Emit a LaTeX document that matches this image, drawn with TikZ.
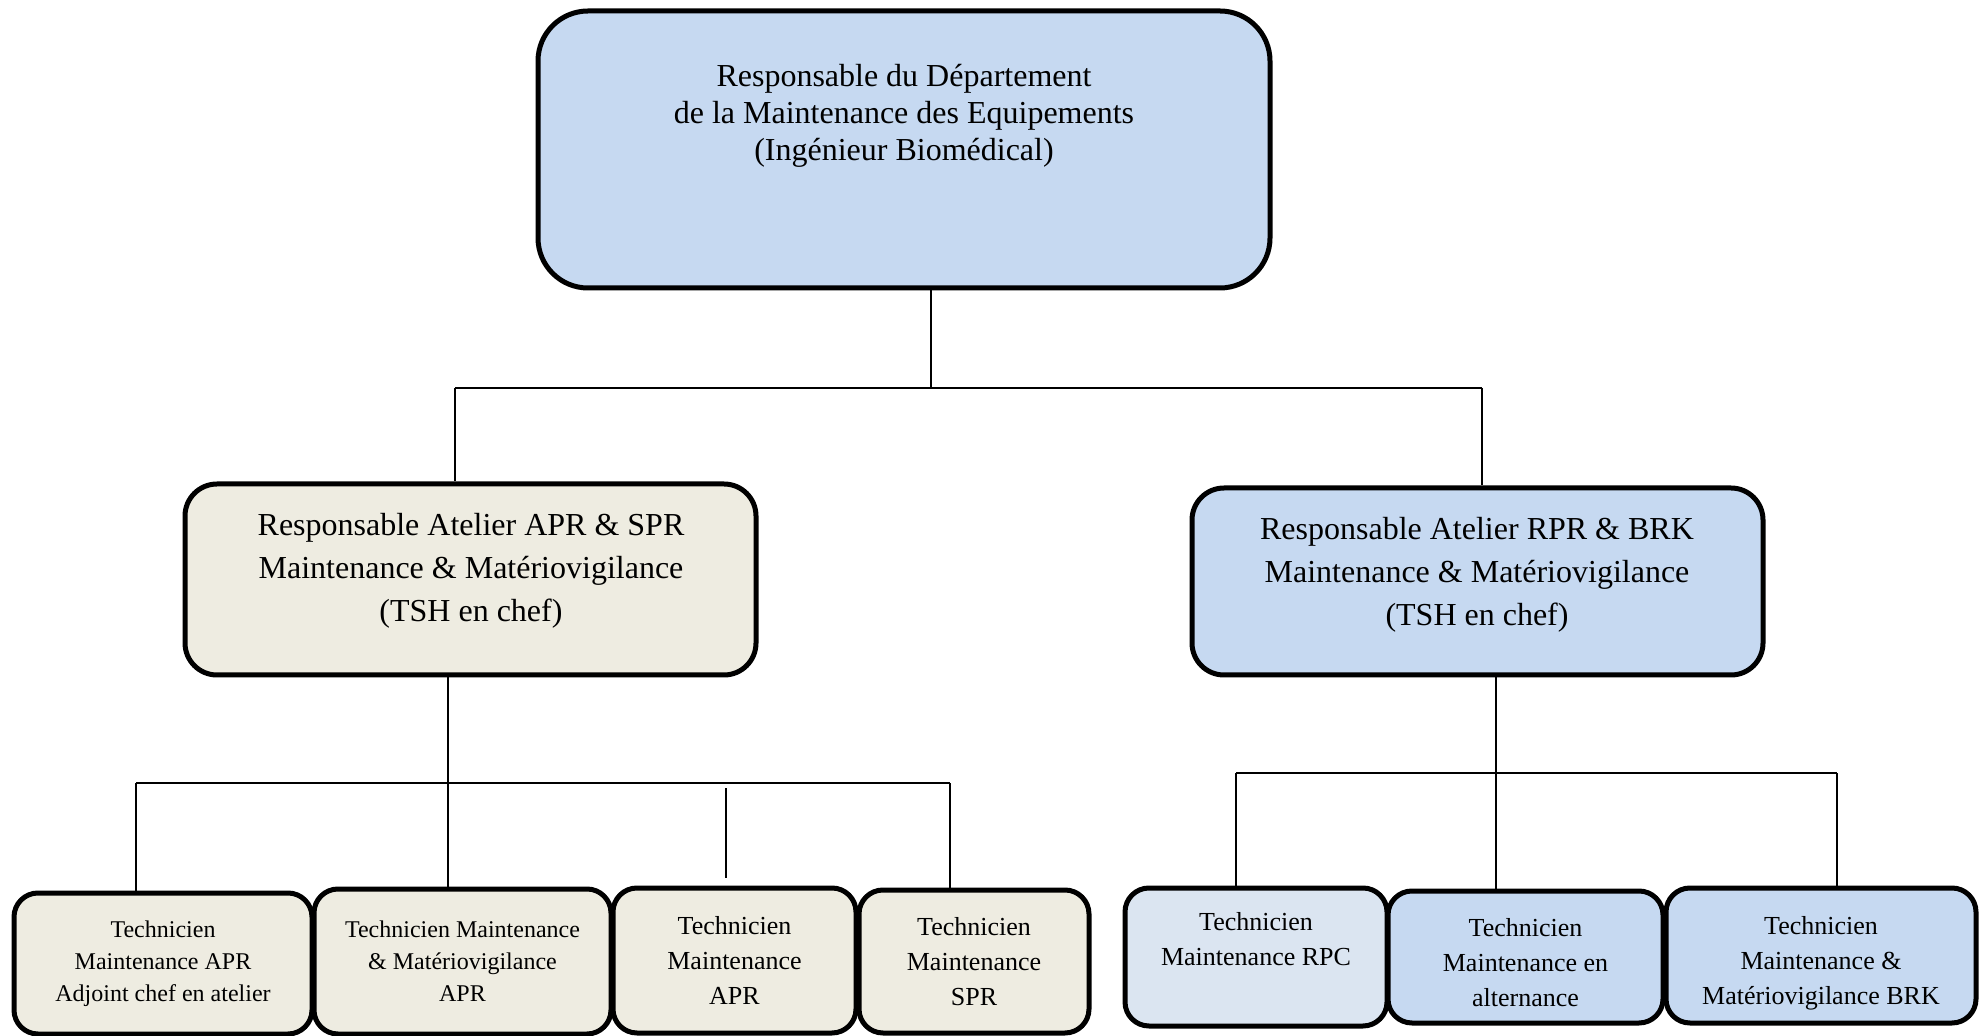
\documentclass[tikz,border=0pt]{standalone}
\usepackage{fontspec}
\setmainfont{Liberation Serif}
\definecolor{tan}{HTML}{EEECE1}
\definecolor{sky}{HTML}{C6D9F1}
\definecolor{pale}{HTML}{DBE5F1}

\begin{document}
\begin{tikzpicture}[x=0.5pt, y=-0.5pt,
  box/.style={draw, line width=2.5pt, rounded corners=12pt, align=center, inner sep=0pt},
  chief/.style={box, fill=sky, rounded corners=25pt, minimum width=366pt, minimum height=138.5pt},
  atelier/.style={box, rounded corners=16pt, minimum width=285.5pt},
  tech/.style={box, font=\fontsize{13}{17.5}\selectfont},
  techs/.style={box, font=\fontsize{12}{16}\selectfont},
  link/.style={line width=0.75pt}]

\useasboundingbox (0,0) rectangle (1986,1036);

% chief of department
\node (dept) [chief] at (904,149.5) {};
\node (dept-txt) [align=center, font=\fontsize{16}{18.5}\selectfont] at (904,116)
  {Responsable du Département\\ de la Maintenance des Equipements\\ (Ingénieur Biomédical)};

% workshop heads
\node (atA) [atelier, fill=tan, minimum height=95.5pt] at (470.5,579.5) {};
\node (atA-txt) [align=center, font=\fontsize{16}{21.5}\selectfont] at (471,571)
  {Responsable Atelier APR \& SPR\\ Maintenance \& Matériovigilance\\ (TSH en chef)};
\node (atB) [atelier, fill=sky, minimum height=93.5pt] at (1477.5,581.5) {};
\node (atB-txt) [align=center, font=\fontsize{16}{21.5}\selectfont] at (1477,575)
  {Responsable Atelier RPR \& BRK\\ Maintenance \& Matériovigilance\\ (TSH en chef)};

% technicians APR & SPR
\node (tL1) [techs, fill=tan, minimum width=149pt, minimum height=70.5pt] at (163,963.5)
  {Technicien\\ Maintenance APR\\ Adjoint chef en atelier};
\node (tL2) [techs, fill=tan, minimum width=148.5pt, minimum height=72.5pt] at (462.5,961.5)
  {Technicien Maintenance\\ \& Matériovigilance\\ APR};
\node (tL3) [tech, fill=tan, minimum width=121.5pt, minimum height=72.5pt] at (734.5,960.5)
  {Technicien\\ Maintenance\\ APR};
\node (tL4) [tech, fill=tan, minimum width=115pt, minimum height=71.5pt] at (974,961.5)
  {Technicien\\ Maintenance\\ SPR};

% technicians RPR & BRK
\node (tR1) [tech, fill=pale, minimum width=131pt, minimum height=69pt] at (1256,957)
  {Technicien\\ Maintenance RPC\rule[-18pt]{0pt}{1pt}};
\node (tR2) [tech, fill=sky, minimum width=137.5pt, minimum height=66pt] at (1525.5,957)
  {\rule{0pt}{15pt}Technicien\\ Maintenance en\\ alternance};
\node (tR3) [tech, fill=sky, minimum width=155pt, minimum height=67.5pt] at (1821,955.5)
  {\rule{0pt}{17pt}Technicien\\ Maintenance \&\\ Matériovigilance BRK};

% links
\coordinate (J0) at (931,388);
\coordinate (J0l) at (455,388);
\coordinate (J0r) at (1482,388);
\draw[link] (dept.south -| J0) -- (J0);
\draw[link] (J0l) -- (J0r);
\draw[link] (J0l) -- (atA.north -| J0l);
\draw[link] (J0r) -- (atB.north -| J0r);

\coordinate (J1) at (448,783);
\coordinate (J1l) at (136,783);
\coordinate (J1r) at (950,783);
\draw[link] (atA.south -| J1) -- (tL2.north -| J1);
\draw[link] (J1l) -- (J1r);
\draw[link] (J1l) -- (tL1.north -| J1l);
\draw[link] (J1r) -- (tL4.north -| J1r);
\coordinate (S3) at (726,788);   % loose stub above APR
\coordinate (S3b) at (726,878);
\draw[link] (S3) -- (S3b);

\coordinate (J2) at (1496,773);
\coordinate (J2l) at (1236,773);
\coordinate (J2r) at (1837,773);
\draw[link] (atB.south -| J2) -- (tR2.north -| J2);
\draw[link] (J2l) -- (J2r);
\draw[link] (J2l) -- (tR1.north -| J2l);
\draw[link] (J2r) -- (tR3.north -| J2r);

\end{tikzpicture}
\end{document}
